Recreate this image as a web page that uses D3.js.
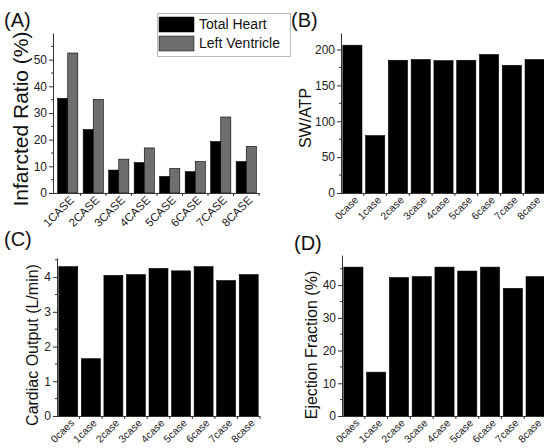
<!DOCTYPE html>
<html><head><meta charset="utf-8">
<script src="https://cdn.jsdelivr.net/npm/d3@7"></script>
<style>body{margin:0;background:#fff}svg{display:block;font-family:Arial,"Liberation Sans",sans-serif}</style>
</head><body>
<svg id="c" width="544" height="448"></svg>
<script>
const caseA = ["1CASE","2CASE","3CASE","4CASE","5CASE","6CASE","7CASE","8CASE"];
const totalHeart = [35.5,23.8,8.6,11.4,6.2,8.0,19.3,11.8];
const leftVentricle = [52.5,35.1,12.7,16.9,9.2,11.8,28.5,17.5];
const caseB = ["0case","1case","2case","3case","4case","5case","6case","7case","8case"];
const swAtp = [206,80,185,186,184.5,185,193,178,186];
const caseC = ["0caes","1case","2case","3case","4case","5case","6case","7case","8case"];
const cardiacOutput = [4.3,1.65,4.05,4.07,4.25,4.18,4.3,3.9,4.07];
const caseD = ["0caes","1case","2case","3case","4case","5case","6case","7case","8case"];
const ejectionFraction = [45.5,13.4,42.3,42.6,45.5,44.3,45.5,39.0,42.6];
const ticksA=[0,10,20,30,40,50], ticksB=[0,50,100,150,200], ticksC=[0,1,2,3,4], ticksD=[0,10,20,30,40];

const svg=d3.select("#c");
const tc="#222";

function panel(o){
  const g=svg.append("g");
  const y=d3.scaleLinear().domain([0,o.ymax]).range([o.y0,o.y1]);
  const x=d3.scaleBand().domain(o.cats).range([o.bx0,o.bx1]).paddingInner(o.pad).paddingOuter(o.pad/2);
  if(o.series.length===1){
    g.selectAll("rect.b").data(o.series[0].v).join("rect")
      .attr("x",(d,i)=>x(o.cats[i])).attr("width",x.bandwidth())
      .attr("y",d=>y(d)).attr("height",d=>y(0)-y(d))
      .attr("fill",o.series[0].c).attr("stroke","#000").attr("stroke-width",0.6);
  } else {
    const sub=d3.scaleBand().domain(d3.range(o.series.length)).range([0,x.bandwidth()]);
    o.series.forEach((s,si)=>{
      g.selectAll("rect.s"+si).data(s.v).join("rect")
        .attr("x",(d,i)=>x(o.cats[i])+sub(si)).attr("width",sub.bandwidth())
        .attr("y",d=>y(d)).attr("height",d=>y(0)-y(d))
        .attr("fill",s.c).attr("stroke","#000").attr("stroke-width",0.6);
    });
  }
  const ya=g.append("g").attr("transform",`translate(${o.ax},0)`)
    .call(d3.axisLeft(y).tickValues(o.ticks).tickFormat(d3.format("d")).tickSize(4).tickPadding(2).tickSizeOuter(0));
  ya.select(".domain").attr("stroke","#333");
  ya.selectAll(".tick line").attr("stroke","#333");
  ya.selectAll("text").attr("font-size",12).attr("fill",tc);
  const minor=d3.range(o.minor, o.ymax, o.minor).filter(v=>!o.ticks.some(t=>Math.abs(t-v)<1e-9));
  g.selectAll("line.mn").data(minor).join("line")
    .attr("x1",o.ax).attr("x2",o.ax-2).attr("y1",d=>y(d)).attr("y2",d=>y(d)).attr("stroke","#333");
  g.append("line").attr("x1",o.ax).attr("x2",o.axEnd).attr("y1",y(0)+0.5).attr("y2",y(0)+0.5).attr("stroke","#333");
  const step=x.step();
  const bounds=d3.range(o.cats.length+1).map(i=>o.bx0+i*step);
  g.selectAll("line.xt").data(bounds.slice(1)).join("line")
    .attr("x1",d=>d).attr("x2",d=>d).attr("y1",y(0)).attr("y2",y(0)+3).attr("stroke","#333");
  g.selectAll("text.xl").data(o.cats).join("text")
    .attr("transform",d=>`translate(${x(d)+x.bandwidth()/2+4},${y(0)+5}) rotate(-45)`)
    .attr("text-anchor","end").attr("dy","0.35em").attr("font-size",o.xfs).attr("fill",tc).text(d=>d);
  g.append("text").attr("transform",`translate(${o.lx},${o.ly}) rotate(-90)`)
    .attr("text-anchor","middle").attr("dominant-baseline","middle")
    .attr("font-size",o.lfs).attr("fill","#111").text(o.label);
  g.append("text").attr("x",o.px).attr("y",o.py).attr("font-size",20).attr("fill","#111").text(o.tag);
  return g;
}

panel({cats:caseA,series:[{v:totalHeart,c:"#000"},{v:leftVentricle,c:"#6e6e6e"}],ymax:60,y0:193,y1:33,
  bx0:55,bx1:259,pad:0.21,ax:53,axEnd:260,ticks:ticksA,minor:5,xfs:11.5,
  label:"Infarcted Ratio (%)",lx:22,ly:119,lfs:21,tag:"(A)",px:4,py:27});
panel({cats:caseB,series:[{v:swAtp,c:"#000"}],ymax:223,y0:193,y1:33,
  bx0:341,bx1:546,pad:0.16,ax:341,axEnd:544,ticks:ticksB,minor:25,xfs:10.5,
  label:"SW/ATP",lx:307,ly:118,lfs:16,tag:"(B)",px:291,py:27});
panel({cats:caseC,series:[{v:cardiacOutput,c:"#000"}],ymax:4.55,y0:416,y1:258,
  bx0:57,bx1:260,pad:0.16,ax:57,axEnd:260,ticks:ticksC,minor:0.5,xfs:10.5,
  label:"Cardiac Output (L/min)",lx:34,ly:345,lfs:16,tag:"(C)",px:4,py:246});
panel({cats:caseD,series:[{v:ejectionFraction,c:"#000"}],ymax:49.2,y0:416,y1:255,
  bx0:342,bx1:547,pad:0.16,ax:342,axEnd:544,ticks:ticksD,minor:5,xfs:10.5,
  label:"Ejection Fraction (%)",lx:313,ly:345,lfs:16,tag:"(D)",px:294,py:250});

const lg=svg.append("g");
lg.append("rect").attr("x",157.5).attr("y",13.5).attr("width",133).attr("height",43).attr("fill","#fff").attr("stroke","#bbb");
[["Total Heart","#000"],["Left Ventricle","#6e6e6e"]].forEach((d,i)=>{
  lg.append("rect").attr("x",159).attr("y",17+i*19).attr("width",35).attr("height",15).attr("fill",d[1]).attr("stroke","#000").attr("stroke-width",0.5);
  lg.append("text").attr("x",199).attr("y",25+i*19).attr("dominant-baseline","middle").attr("font-size",14).attr("fill","#111").text(d[0]);
});
</script>
</body></html>
